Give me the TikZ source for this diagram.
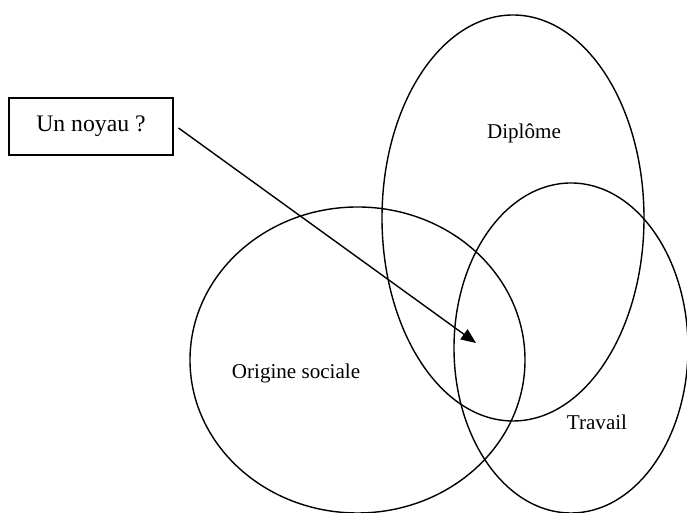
\documentclass[tikz,border=0pt]{standalone}
\usepackage{fontspec}
\setmainfont{Liberation Serif}
\usepackage{tikz}
\usetikzlibrary{arrows.meta}

\begin{document}
\begin{tikzpicture}[x=0.02cm,y=0.02cm,line width=0.8pt]
    \useasboundingbox (0,0) rectangle (687,513);
    \draw (513,295) ellipse (131 and 203);
    \draw (357.5,153) ellipse (167.5 and 153);
    \draw (571,165) ellipse (117 and 165);
    \node (dip) at (524,380) {\fontsize{12}{14}\selectfont Diplôme};
    \node (ori) at (296,140) {\fontsize{12}{14}\selectfont Origine sociale};
    \node (tra) at (597,91) {\fontsize{12}{14}\selectfont Travail};
    \node[draw,line width=0.6pt,minimum width=3.28cm,minimum height=1.14cm] (noy) at (91,386.5) {\fontsize{13.5}{16}\selectfont Un noyau ?};
    \coordinate (core) at (476,170);
    \draw[-{Triangle[length=8.5pt,width=7pt]}] ([shift={(5,-1.5)}]noy.east) -- (core);
  \end{tikzpicture}
\end{document}
